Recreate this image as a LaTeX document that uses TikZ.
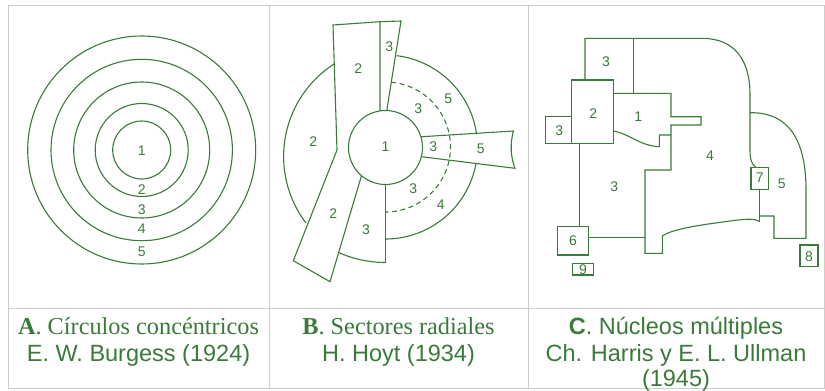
\documentclass[tikz,border=0pt]{standalone}
\usepackage{fontspec}
\setmainfont{Liberation Serif}
\setsansfont{Liberation Sans}
\definecolor{gr}{RGB}{58,122,58}
\definecolor{grid}{RGB}{205,205,205}
\begin{document}
\begin{tikzpicture}[x=1pt,y=-1pt,
  zone/.style={draw=gr,line width=1.1pt,line join=miter},
  lab/.style={text=gr,font=\sffamily\fontsize{14}{16}\selectfont,inner sep=0pt},
  capser/.style={text=gr,anchor=base,inner sep=0pt,font=\rmfamily\fontsize{24.3}{28}\selectfont},
  capsan/.style={text=gr,anchor=base,inner sep=0pt,font=\sffamily\fontsize{23.5}{28}\selectfont},
  gridline/.style={draw=grid,line width=0.9pt}]
\useasboundingbox (0,0) rectangle (825,391);
\fill[white] (0,0) rectangle (825,391);
% frame
\draw[gridline] (8,5) rectangle (824,388);
\draw[gridline] (8,308) -- (824,308);
\draw[gridline] (269,5) -- (269,388);
\draw[gridline] (528,5) -- (528,388);

% ---------- Panel A ----------
\foreach \r in {29,46.5,68,90.7,114} \draw[zone] (141.7,150) circle[radius=\r];
\node[lab] (a1) at (141.7,151) {1};
\node[lab] (a2) at (141.7,190) {2};
\node[lab] (a3) at (141.7,210) {3};
\node[lab] (a4) at (141.7,229) {4};
\node[lab] (a5) at (141.7,252) {5};

% ---------- Panel B ----------
% left big arc
\draw[zone] plot[domain=142.8:237.2,samples=50] ({393.6+110*cos(\x)},{156.5+110*sin(\x)});
% right big arc (two pieces)
\draw[zone] plot[domain=-83.1:-8.6,samples=50] ({385.5+92*cos(\x)},{147+92*sin(\x)});
\draw[zone] plot[domain=10.3:90,samples=50] ({385.5+92*cos(\x)},{147+92*sin(\x)});
% dashed arc
\draw[zone,dash pattern=on 5pt off 3.5pt] plot[domain=-85:90,samples=60] ({385.5+65*cos(\x)},{147+65*sin(\x)});
% upper strip 3
\draw[zone] (380,21.7) -- (401,21) -- (386.7,111);
% lower strip 3
\draw[zone] (385.5,184) -- (385.5,262.5);
\draw[zone] plot[domain=90:116,samples=20] ({385.5+115*cos(\x)},{147.5+115*sin(\x)});
% strips 2
\draw[zone,fill=white] (333,25) -- (380,21.7) -- (380,111) -- (361.5,175.6) -- (330,281.7) -- (293.3,260.7) -- (337,150) -- cycle;
% right strip
\draw[zone] (419,136.9) -- (513.3,131) .. controls (510,145) and (510.5,156) .. (515,168.3) -- (419,156.4);
% center circle
\draw[zone,fill=white] (385.5,147.5) circle[radius=37];
\node[lab] (b1) at (385.5,147) {1};
\node[lab] (b3a) at (389.3,46.7) {3};
\node[lab] (b2a) at (358.3,68.3) {2};
\node[lab] (b2b) at (313.3,141.7) {2};
\node[lab] (b3b) at (418.3,108.3) {3};
\node[lab] (b5a) at (448.3,98.3) {5};
\node[lab] (b3c) at (433.3,146.7) {3};
\node[lab] (b5b) at (480.7,148.3) {5};
\node[lab] (b3d) at (413.3,188.3) {3};
\node[lab] (b4) at (440.7,205) {4};
\node[lab] (b2c) at (333.3,214) {2};
\node[lab] (b3e) at (366,229.3) {3};

% ---------- Panel C ----------
\draw[zone] (585,80) -- (585,38.3) -- (703,38.3) .. controls (735,39) and (750,60) .. (750,95) -- (750,150) .. controls (750,160) and (752,165) .. (756,167.3);
\draw[zone] (633.3,38.3) -- (633.3,93.3);
\draw[zone] (571.7,80) rectangle (613.3,143.3);
\draw[zone] (545.7,116.7) rectangle (571.7,143.3);
\draw[zone] (613.3,93.3) -- (671,93.3) -- (671,116.7) -- (701,116.7) -- (701,125) -- (671,125) -- (671,170) -- (645,170) -- (645,253.3) -- (662.3,253.3) -- (662.3,236) .. controls (672,229) and (700,225) .. (730,221) .. controls (745,219) and (755,218) .. (759.3,221.7);
\draw[zone] (613.3,131) .. controls (628,133) and (640,146) .. (659.3,146.7) -- (659.3,135) -- (671,135);
\draw[zone] (579.3,143.3) -- (579.3,226.7);
\draw[zone] (557.3,226.7) rectangle (588.3,255);
\draw[zone] (588.3,237.3) -- (645,237.3);
\draw[zone] (572.7,263.3) rectangle (593.3,275);
\draw[zone] (751,167.3) rectangle (768.3,189.3);
\draw[zone] (759.3,189.3) -- (759.3,221.7);
\draw[zone] (759.3,216) -- (774,216) -- (774,238.3) -- (806,238.3) -- (806,190) .. controls (806,150) and (795,112) .. (750,112.7);
\draw[zone] (800,245) rectangle (818,266.7);
\node[lab] (c3a) at (606,61.7) {3};
\node[lab] (c2) at (593.3,113.3) {2};
\node[lab] (c1) at (638.3,116.7) {1};
\node[lab] (c3b) at (559.3,130.7) {3};
\node[lab] (c4) at (710,156) {4};
\node[lab] (c7) at (759.7,178) {7};
\node[lab] (c5) at (781.7,184) {5};
\node[lab] (c3c) at (614.3,186.7) {3};
\node[lab] (c6) at (573,241) {6};
\node[lab] (c9) at (583,269.5) {9};
\node[lab] (c8) at (809,256.5) {8};

% ---------- Captions ----------
\node[capser] (ca1) at (138.5,334) {\textbf{A}. Círculos concéntricos};
\node[capsan] (ca2) at (138.5,361) {E. W. Burgess (1924)};
\node[capser] (cb1) at (398.5,334) {\textbf{B}. Sectores radiales};
\node[capsan] (cb2) at (398.5,361) {H. Hoyt (1934)};
\node[capsan] (cc1) at (676,334) {\textbf{C}. Núcleos múltiples};
\node[capsan] (cc2) at (676,361) {Ch. Harris y E. L. Ullman};
\node[capsan] (cc3) at (676,386) {(1945)};
\end{tikzpicture}
\end{document}
